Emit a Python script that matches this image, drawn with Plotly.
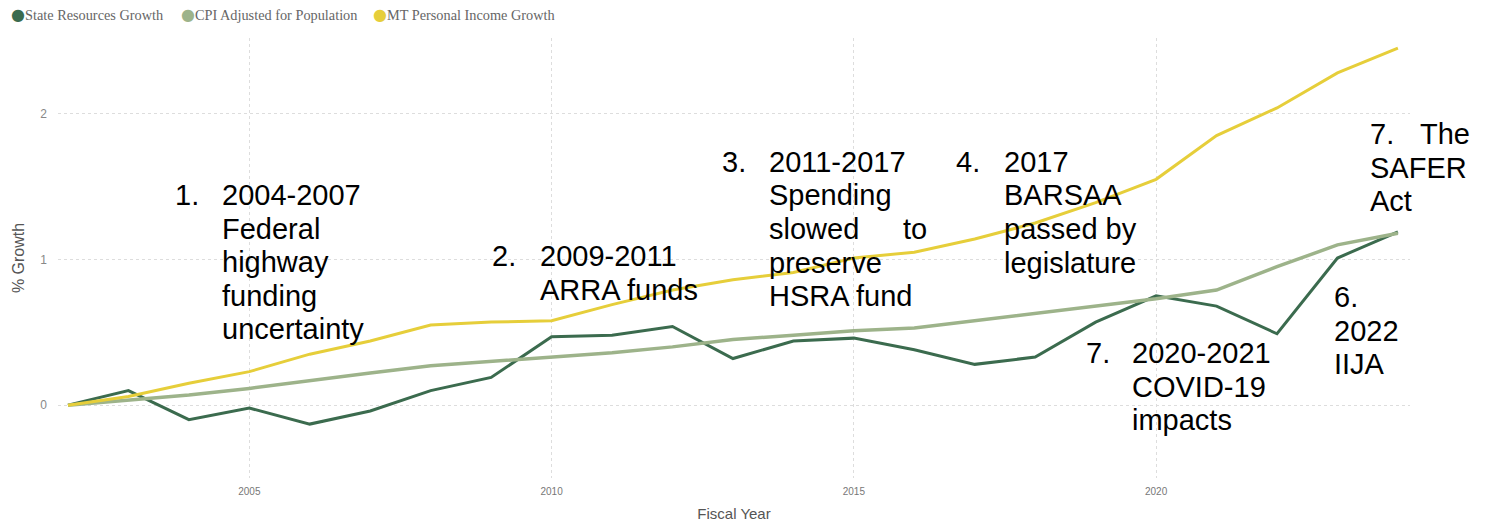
import plotly.graph_objects as go

# ---------------- data ----------------
years = [2002, 2003, 2004, 2005, 2006, 2007, 2008, 2009, 2010, 2011, 2012,
         2013, 2014, 2015, 2016, 2017, 2018, 2019, 2020, 2021, 2022, 2023, 2024]
state_resources = [0, 0.10, -0.10, -0.02, -0.13, -0.04, 0.10, 0.19, 0.47, 0.48, 0.54,
                   0.32, 0.44, 0.46, 0.38, 0.28, 0.33, 0.57, 0.75, 0.68, 0.49, 1.01, 1.19]
cpi_adjusted = [0, 0.035, 0.07, 0.115, 0.17, 0.22, 0.27, 0.30, 0.33, 0.36, 0.40,
                0.45, 0.48, 0.51, 0.53, 0.58, 0.63, 0.68, 0.73, 0.79, 0.95, 1.10, 1.18]
mt_income = [0, 0.06, 0.15, 0.23, 0.35, 0.44, 0.55, 0.57, 0.58, 0.69, 0.79,
             0.86, 0.91, 1.01, 1.05, 1.14, 1.25, 1.39, 1.55, 1.85, 2.04, 2.28, 2.45]

series_names = ["State Resources Growth", "CPI Adjusted for Population", "MT Personal Income Growth"]
y_tick_vals = [0, 1, 2]
x_tick_vals = [2005, 2010, 2015, 2020]

# annotation texts
note1_num, note1_lines = "1.", ["2004-2007", "Federal", "highway", "funding", "uncertainty"]
note2_num, note2_lines = "2.", ["2009-2011", "ARRA funds"]
note3_num, note3_lines = "3.", ["2011-2017", "Spending", "slowed", "preserve", "HSRA fund"]
note3_to = "to"
note4_num, note4_lines = "4.", ["2017", "BARSAA", "passed by", "legislature"]
note7a_num, note7a_lines = "7.", ["2020-2021", "COVID-19", "impacts"]
note6_lines = ["6.", "2022", "IIJA"]
note7b_num, note7b_first, note7b_lines = "7.", "The", ["SAFER", "Act"]

# ---------------- styling / layout ----------------
W_FIG, H_FIG = 1486, 523
L, R, T, B = 58, 1410, 38, 478
colors = ["#3B6B4E", "#9DB38A", "#E6CE3A"]
widths = [3, 3.5, 3]

def paper(px, py):
    return (px - L) / (R - L), (B - py) / (B - T)

fig = go.Figure()
for name, ys, c, w in zip(series_names, [state_resources, cpi_adjusted, mt_income], colors, widths):
    fig.add_trace(go.Scatter(x=years, y=ys, mode="lines", name=name,
                             line=dict(color=c, width=w), showlegend=False))

annotations = []

def add_text(text, px, py, anchor="left", size=29, color="#000000", family="Liberation Sans, Arial, sans-serif"):
    x, y = paper(px, py)
    annotations.append(dict(text=text, x=x, y=y, xref="paper", yref="paper",
                            xanchor=anchor, yanchor="middle", showarrow=False,
                            font=dict(size=size, color=color, family=family)))

LS = 33.5
DX = -3
def add_note(num, lines, num_x, body_x, y0):
    if num:
        add_text(num, num_x + DX, y0)
    for i, ln in enumerate(lines):
        add_text(ln, body_x + DX, y0 + i * LS)

add_note(note1_num, note1_lines, 176, 223, 195)
add_note(note2_num, note2_lines, 493, 541, 256)
add_note(note3_num, note3_lines, 723, 770, 162)
add_text(note3_to, 929, 162 + 2 * LS, anchor="right")
add_note(note4_num, note4_lines, 957, 1005, 162)
add_note(note7a_num, note7a_lines, 1087, 1133, 353)
add_note(None, note6_lines, 1335, 1335, 297)
add_note(note7b_num, [], 1371, 1371, 134)
add_note(None, [note7b_first], 1421, 1421, 134)
add_note(None, note7b_lines, 1371, 1371, 134 + LS)

# legend drawn as text items
legend_x = [9, 179, 371]
for name, c, lx in zip(series_names, colors, legend_x):
    add_text(f'<span style="color:{c};font-size:16px;font-family:DejaVu Sans">●</span>{name}', lx, 14,
             size=14.3, color="#666666", family="Liberation Serif, Times New Roman, serif")

fig.update_layout(
    width=W_FIG, height=H_FIG,
    margin=dict(l=L, r=W_FIG - R, t=T, b=H_FIG - B, pad=0, autoexpand=False),
    plot_bgcolor="white", paper_bgcolor="white",
    annotations=annotations,
    showlegend=False,
    xaxis=dict(
        range=[2001.835, 2024.2], tickvals=x_tick_vals, ticktext=[str(v) for v in x_tick_vals],
        showgrid=True, gridcolor="#DDDDDD", griddash="dot", gridwidth=1,
        zeroline=False, showline=False, ticks="", ticklabelstandoff=6, automargin=False,
        tickfont=dict(size=10, color="#777777", family="Liberation Sans Narrow, Arial Narrow, Liberation Sans, sans-serif"),
        title=dict(text="Fiscal Year", standoff=12,
                   font=dict(size=15, color="#555555", family="Liberation Sans Narrow, Liberation Sans, sans-serif")),
    ),
    yaxis=dict(
        range=[-0.5, 2.52], tickvals=y_tick_vals,
        showgrid=True, gridcolor="#DDDDDD", griddash="dot", gridwidth=1,
        zeroline=False, showline=False, ticks="", ticklabelstandoff=10, automargin=False,
        tickfont=dict(size=12, color="#888888", family="Liberation Sans, sans-serif"),
        title=dict(text="% Growth", standoff=11,
                   font=dict(size=16, color="#555555", family="Liberation Sans, sans-serif")),
    ),
)

fig.write_html("out.html")
